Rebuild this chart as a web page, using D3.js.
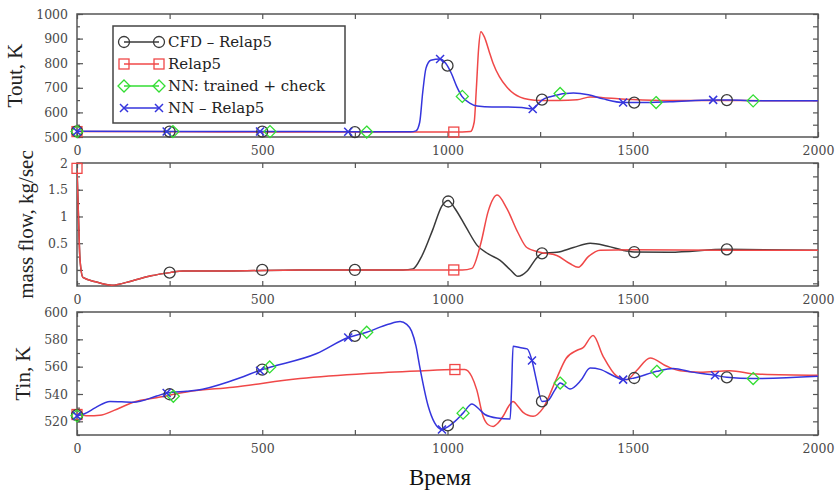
<!DOCTYPE html>
<html>
<head>
<meta charset="utf-8">
<script src="https://cdn.jsdelivr.net/npm/d3@7"></script>
<style>
  body { margin: 0; background: #fff; }
  svg { display: block; }
  .tick text { font-family: "DejaVu Serif", serif; font-size: 12.5px; fill: #4a4a4a; }
  .tick line { stroke: #555; stroke-width: 1.2; }
</style>
</head>
<body>
<svg id="chart" width="838" height="492"></svg>
<script>
//time ticks, shared by the three panels
var timeTicks = [0, 250, 500, 750, 1000, 1250, 1500, 1750, 2000];
var timeLabels = [0, 500, 1000, 1500, 2000];

//Tout, K
var toutRelap = [[0,522],[300,521],[600,520],[900,520],[1040,520],[1062,522],[1072,560],[1078,700],[1084,860],[1090,928],[1100,905],[1112,850],[1123,800],[1140,745],[1160,703],[1180,675],[1196,662],[1220,652],[1250,648],[1300,648],[1350,651],[1385,663],[1420,660],[1500,652],[1600,648],[1800,648],[2000,647]];
var toutNN = [[0,523],[300,522],[600,522],[900,521],[915,525],[925,560],[933,680],[942,780],[955,812],[980,817],[995,800],[1010,760],[1025,705],[1039,665],[1060,638],[1080,626],[1120,622],[1160,622],[1200,620],[1230,614],[1245,635],[1255,650],[1280,665],[1340,679],[1380,672],[1420,655],[1475,640],[1520,640],[1600,643],[1717,650],[1760,650],[1850,647],[2000,647]];
var toutCircles = [[0,523],[250,522],[500,522],[750,520],[1000,790],[1255,652],[1504,640],[1754,650]];
var toutSquares = [[0,522],[1017,520]];
var toutDiamonds = [[0,522],[259,522],[521,522],[782,520],[1040,665],[1304,677],[1563,640],[1825,647]];
var toutCrosses = [[0,522],[242,522],[494,522],[732,521],[980,817],[1230,614],[1474,640],[1717,651]];

//mass flow, kg/sec
var flowRelap = [[0,1.9],[4,1.0],[8,0.2],[16,-0.14],[50,-0.22],[94,-0.285],[150,-0.2],[200,-0.11],[251,-0.05],[287,-0.02],[400,-0.02],[600,0],[900,0],[1040,0],[1066,0.03],[1090,0.5],[1110,1.1],[1134,1.4],[1160,1.15],[1190,0.7],[1214,0.42],[1250,0.33],[1295,0.27],[1330,0.12],[1353,0.05],[1380,0.25],[1412,0.37],[1500,0.38],[1750,0.37],[2000,0.37]];
var flowCFD = [[0,1.9],[4,1.0],[8,0.2],[16,-0.14],[50,-0.22],[94,-0.285],[150,-0.2],[200,-0.11],[251,-0.05],[287,-0.02],[400,-0.02],[600,0],[880,0],[907,0.02],[930,0.25],[960,0.75],[985,1.2],[1002,1.3],[1020,1.15],[1050,0.8],[1080,0.46],[1110,0.3],[1142,0.18],[1170,0.0],[1190,-0.12],[1215,-0.02],[1240,0.22],[1255,0.31],[1295,0.33],[1340,0.42],[1385,0.5],[1430,0.45],[1480,0.36],[1504,0.335],[1600,0.33],[1754,0.385],[2000,0.37]];
var flowCircles = [[250,-0.05],[500,0],[750,0],[1002,1.28],[1255,0.31],[1504,0.335],[1754,0.385]];
var flowSquares = [[0,1.9],[1017,0]];

//Tin, K
var tinRelap = [[0,525.6],[30,524],[62,524.4],[100,528],[152,534],[224,537.8],[296,541.5],[421,545],[602,551.3],[782,555],[926,556.9],[1020,557.9],[1047,558],[1065,553],[1079,543],[1096,523.7],[1110,517.5],[1123,516.3],[1137,519],[1150,523.7],[1165,531],[1177,534.6],[1190,531],[1204,526.6],[1231,523.7],[1258,529.7],[1295,551.7],[1320,566],[1350,572],[1366,574],[1393,582.8],[1420,567.6],[1457,553],[1484,550.5],[1510,557],[1547,566.4],[1592,560.3],[1628,557],[1682,556],[1762,557],[1835,554.6],[2000,553.7]];
var tinNN = [[0,524],[20,525.5],[50,530],[89,534.6],[152,534],[215,538.5],[242,540.7],[296,542],[323,542.7],[421,550],[500,557.9],[647,569.6],[732,581.3],[782,585.2],[840,591],[872,593],[890,591],[903,586],[915,575],[925,560],[948,531],[965,519],[985,514],[1001,516],[1020,520],[1042,526],[1066,532.7],[1085,529],[1101,525],[1134,522.4],[1169,521.7],[1173,545],[1177,575],[1195,574],[1215,573],[1228,564.5],[1240,550],[1255,534.6],[1270,535],[1290,543],[1304,548],[1331,543.7],[1360,550],[1385,559],[1412,558],[1450,553],[1474,550.5],[1504,551.7],[1565,556.6],[1609,558.6],[1660,556],[1722,553.7],[1754,552.2],[1825,551.3],[2000,553]];
var tinCircles = [[0,524.5],[250,539.8],[500,557.9],[750,582.5],[1001,517],[1255,534.6],[1504,551.7],[1754,552.2]];
var tinSquares = [[0,525],[1020,557.9]];
var tinDiamonds = [[0,524],[260,538.3],[520,559.8],[782,585.2],[1042,526],[1304,548],[1565,556.6],[1825,551.3]];
var tinCrosses = [[0,524],[242,540.7],[494,557],[732,581.3],[985,514],[1228,564.5],[1474,550.5],[1722,553.7]];

var legendLabels = ["CFD \u2013 Relap5", "Relap5", "NN: trained + check", "NN \u2013 Relap5"];

var colors = { cfd: "#3a3a3a", relap: "#f04848", check: "#33dd33", nn: "#3535dd" };

var svg = d3.select("#chart"),
    left = 77, right = 818;

var x = d3.scaleLinear().domain([0, 2000]).range([left, right]);

var panels = [
  { top: 14, bottom: 137, domain: [500, 1000], major: d3.range(500, 1001, 100), minor: d3.range(500, 1001, 50),
    title: "Tout, K", titleX: 22, fmt: d3.format("d"),
    lines: [{ data: toutRelap, color: colors.relap }, { data: toutNN, color: colors.nn }],
    marks: [{ data: toutSquares, kind: "square" }, { data: toutCircles, kind: "circle" },
            { data: toutDiamonds, kind: "diamond" }, { data: toutCrosses, kind: "cross" }] },
  { top: 163, bottom: 286, domain: [-0.3, 2], major: [0, 0.5, 1, 1.5, 2], minor: d3.range(-0.25, 2.01, 0.25),
    title: "mass flow, kg/sec", titleX: 33, fmt: function(d) { return d3.format("~g")(d); },
    lines: [{ data: flowCFD, color: colors.cfd }, { data: flowRelap, color: colors.relap }],
    marks: [{ data: flowSquares, kind: "square" }, { data: flowCircles, kind: "circle" }] },
  { top: 312, bottom: 435, domain: [510, 600], major: d3.range(520, 601, 20), minor: d3.range(510, 601, 10),
    title: "Tin, K", titleX: 30, fmt: d3.format("d"),
    lines: [{ data: tinRelap, color: colors.relap }, { data: tinNN, color: colors.nn }],
    marks: [{ data: tinSquares, kind: "square" }, { data: tinCircles, kind: "circle" },
            { data: tinDiamonds, kind: "diamond" }, { data: tinCrosses, kind: "cross" }] }
];

//draws one marker of the given kind at 0,0 of g
function drawMarker(g, kind) {
  if (kind === "circle") {
    g.append("circle").attr("r", 5.5).attr("fill", "none").attr("stroke", colors.cfd).attr("stroke-width", 1.3);
  } else if (kind === "square") {
    g.append("rect").attr("x", -5).attr("y", -5).attr("width", 10).attr("height", 10)
      .attr("fill", "none").attr("stroke", colors.relap).attr("stroke-width", 1.3);
  } else if (kind === "diamond") {
    g.append("path").attr("d", "M0,-6L6,0L0,6L-6,0Z")
      .attr("fill", "none").attr("stroke", colors.check).attr("stroke-width", 1.3);
  } else {
    g.append("path").attr("d", "M-4,-4L4,4M-4,4L4,-4")
      .attr("fill", "none").attr("stroke", colors.nn).attr("stroke-width", 1.5);
  }
}

panels.forEach(function(p, i) {
  var y = d3.scaleLinear().domain(p.domain).range([p.bottom, p.top]),
      g = svg.append("g");

  g.append("clipPath").attr("id", "clip" + i)
    .append("rect").attr("x", left).attr("y", p.top).attr("width", right - left).attr("height", p.bottom - p.top);

  //ticks pointing inward on all four sides
  g.append("g").attr("transform", "translate(0," + p.bottom + ")")
    .call(d3.axisBottom(x).tickValues(timeTicks).tickSize(-5).tickSizeOuter(0).tickPadding(9)
      .tickFormat(function(d) { return timeLabels.indexOf(d) >= 0 ? d : ""; }));
  g.append("g").attr("transform", "translate(0," + p.top + ")")
    .call(d3.axisTop(x).tickValues(timeTicks).tickSize(-5).tickSizeOuter(0).tickFormat(""));
  g.append("g").attr("transform", "translate(" + left + ",0)")
    .call(d3.axisLeft(y).tickValues(p.minor).tickSize(-3).tickSizeOuter(0).tickFormat(""));
  g.append("g").attr("transform", "translate(" + left + ",0)")
    .call(d3.axisLeft(y).tickValues(p.major).tickSize(-6).tickSizeOuter(0).tickPadding(9).tickFormat(p.fmt));
  g.append("g").attr("transform", "translate(" + right + ",0)")
    .call(d3.axisRight(y).tickValues(p.minor).tickSize(-5).tickSizeOuter(0).tickFormat(""));
  g.selectAll(".domain").remove();

  g.append("rect").attr("x", left).attr("y", p.top).attr("width", right - left).attr("height", p.bottom - p.top)
    .attr("fill", "none").attr("stroke", "#555").attr("stroke-width", 1.5);

  var line = d3.line()
    .x(function(d) { return x(d[0]); })
    .y(function(d) { return y(d[1]); })
    .curve(d3.curveMonotoneX);

  var plot = g.append("g").attr("clip-path", "url(#clip" + i + ")");
  p.lines.forEach(function(l) {
    plot.append("path").datum(l.data).attr("d", line)
      .attr("fill", "none").attr("stroke", l.color).attr("stroke-width", 1.5);
  });

  //markers are not clipped, the ones at t=0 sit on the frame
  p.marks.forEach(function(m) {
    g.selectAll(null).data(m.data).enter().append("g")
      .attr("transform", function(d) { return "translate(" + x(d[0]) + "," + y(d[1]) + ")"; })
      .each(function() { drawMarker(d3.select(this), m.kind); });
  });

  g.append("text")
    .attr("transform", "translate(" + p.titleX + "," + ((p.top + p.bottom) / 2) + ") rotate(-90)")
    .attr("text-anchor", "middle")
    .style("font-family", "'Liberation Serif', serif").style("font-size", "21px").style("fill", "#222")
    .text(p.title);
});

//legend in the top panel
var legend = svg.append("g");
legend.append("rect").attr("x", 113).attr("y", 26).attr("width", 232).attr("height", 97)
  .attr("fill", "#fff").attr("stroke", "#444").attr("stroke-width", 1.5);

var legendKinds = ["circle", "square", "diamond", "cross"],
    legendColors = [colors.cfd, colors.relap, colors.check, colors.nn];

legendLabels.forEach(function(label, i) {
  var cy = 42 + i * 22, row = legend.append("g");
  row.append("line").attr("x1", 124).attr("x2", 159).attr("y1", cy).attr("y2", cy)
    .attr("stroke", legendColors[i]).attr("stroke-width", 1.5);
  [124, 159].forEach(function(mx) {
    drawMarker(row.append("g").attr("transform", "translate(" + mx + "," + cy + ")"), legendKinds[i]);
  });
  row.append("text").attr("x", 168).attr("y", cy + 5)
    .style("font-family", "'DejaVu Serif', serif").style("font-size", "15px").style("fill", "#222")
    .text(label);
});

svg.append("text").attr("x", 440).attr("y", 485).attr("text-anchor", "middle")
  .style("font-family", "'Liberation Serif', serif").style("font-size", "23px").style("fill", "#111")
  .text("Время");
</script>
</body>
</html>
